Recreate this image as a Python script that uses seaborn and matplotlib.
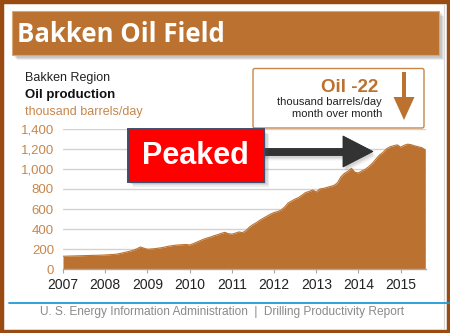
import numpy as np
import pandas as pd
import matplotlib
matplotlib.use("Agg")
import matplotlib.pyplot as plt
import seaborn as sns
from matplotlib.patches import Rectangle, FancyBboxPatch, Polygon
from matplotlib.ticker import FuncFormatter

# Bakken region oil production, thousand barrels/day, monthly Jan 2007 - Aug 2015
prod_2007 = [130, 131, 132, 133, 134, 135, 136, 137, 138, 139, 140, 141]
prod_2008 = [143, 145, 147, 150, 156, 164, 172, 180, 190, 204, 222, 210]
prod_2009 = [200, 202, 205, 210, 215, 222, 230, 235, 240, 243, 245, 247]
prod_2010 = [242, 255, 270, 285, 300, 312, 322, 335, 345, 358, 368, 355]
prod_2011 = [350, 360, 372, 365, 385, 420, 445, 465, 490, 510, 530, 550]
prod_2012 = [565, 575, 590, 620, 660, 680, 700, 715, 740, 765, 775, 790]
prod_2013 = [770, 800, 805, 815, 825, 835, 860, 920, 955, 975, 1005, 965]
prod_2014 = [960, 980, 997, 1025, 1057, 1100, 1139, 1165, 1200, 1220, 1230, 1239]
prod_2015 = [1216, 1235, 1246, 1240, 1229, 1220, 1211, 1189]

year_ticks = [2007, 2008, 2009, 2010, 2011, 2012, 2013, 2014, 2015]
y_ticks = [0, 200, 400, 600, 800, 1000, 1200, 1400]

values = (prod_2007 + prod_2008 + prod_2009 + prod_2010 + prod_2011 +
          prod_2012 + prod_2013 + prod_2014 + prod_2015)
df = pd.DataFrame({"month": np.arange(len(values)), "oil": values})
df["t"] = 2007 + df["month"] / 12.0

BROWN = "#bb7230"
FRAME = "#9a4b12"
TICK_ORANGE = "#c8864b"

sns.set_theme(style="white")
plt.rcParams["font.family"] = ["Liberation Sans", "DejaVu Sans"]

W, H = 450, 333
fig = plt.figure(figsize=(W / 100, H / 100), dpi=100)
fig.patch.set_facecolor("white")

# main chart axes
ax = fig.add_axes([63 / W, 1 - 269.3 / H, (426 - 63) / W, (269.3 - 128.7) / H])
ax.set_facecolor("white")
sns.lineplot(data=df, x="t", y="oil", ax=ax, color=BROWN, lw=0.8)
ax.fill_between(df["t"], df["oil"], color=BROWN, lw=0, zorder=2)
ax.set_xlim(2007, 2015.6)
ax.set_ylim(0, 1400)
ax.set_xticks(year_ticks)
ax.set_yticks(y_ticks)
ax.yaxis.set_major_formatter(FuncFormatter(lambda v, p: f"{int(v):,}"))
ax.set_xlabel("")
ax.set_ylabel("")
for v in y_ticks[1:]:
    ax.axhline(v, color="#d2d2d2", lw=1.0, zorder=1)
for s in ["top", "right", "left"]:
    ax.spines[s].set_visible(False)
ax.spines["bottom"].set_color("#a8a8a8")
ax.spines["bottom"].set_linewidth(1.0)
ax.spines["bottom"].set_zorder(3)
ax.tick_params(axis="x", which="major", length=3, width=0.8, color="#a8a8a8",
               bottom=True, labelsize=10, labelcolor="#222222", pad=3)
ax.tick_params(axis="y", length=0, labelsize=9.5, labelcolor=TICK_ORANGE, pad=6.5)

# overlay in pixel coordinates
ov = fig.add_axes([0, 0, 1, 1], zorder=5)
ov.set_xlim(0, W)
ov.set_ylim(H, 0)
ov.axis("off")
ov.patch.set_alpha(0)

# outer frame
ov.add_patch(Rectangle((1.5, 1.5), W - 3, H - 3, fill=False, ec=FRAME, lw=3.2))
ov.plot([444, 444], [4, 329], color="#d8d8d8", lw=0.8)

# title banner with shadow
for i, a in enumerate([0.10, 0.12, 0.15]):
    d = 5 - i * 1.2
    ov.add_patch(Rectangle((12.3 + d, 10.7 + d), 427, 44.3, fc="#555555", ec="none", alpha=a))
ov.add_patch(Rectangle((12.3, 10.7), 427, 44.3, fc=BROWN, ec="#d9a878", lw=0.8))
ov.text(17, 34, "Bakken Oil Field", color="white", fontsize=18.5, fontweight="bold",
        family=["Open Sans", "DejaVu Sans"], va="center", ha="left")

# chart headings
ov.text(25, 78, "Bakken Region", color="#222222", fontsize=9, va="center")
ov.text(25, 95, "Oil production", color="#111111", fontsize=9.5, fontweight="bold", va="center")
ov.text(25, 112, "thousand barrels/day", color=TICK_ORANGE, fontsize=9, va="center")

# monthly change box
ov.add_patch(FancyBboxPatch((253, 68.5), 171, 59.5, boxstyle="round,pad=0,rounding_size=2",
                            fc="white", ec="#c8864b", lw=1.0))
ov.text(350, 88, "Oil -22", color=BROWN, fontsize=13.5, fontweight="bold", ha="center", va="center")
ov.text(382, 102, "thousand barrels/day", color="#222222", fontsize=8, ha="right", va="center")
ov.text(382, 114, "month over month", color="#222222", fontsize=8, ha="right", va="center")
ov.add_patch(Polygon([(402, 72), (406, 72), (406, 97), (414.5, 97), (404, 120),
                      (393.5, 97), (402, 97)], closed=True, fc=BROWN, ec="none"))

# arrow pointing at the peak, with soft shadow
arrow_pts = [(262, 148.5), (343, 148.5), (343, 136), (373, 151.5),
             (343, 167), (343, 155.5), (262, 155.5)]
for i, a in enumerate([0.08, 0.10, 0.13]):
    d = 5 - i * 1.3
    ov.add_patch(Polygon([(x + d * 0.6, y + d) for x, y in arrow_pts], closed=True,
                         fc="#666666", ec="none", alpha=a))
ov.add_patch(Polygon(arrow_pts, closed=True, fc="#333333", ec="#2a2a2a", lw=0.6))

# "Peaked" label box with shadow
for i, a in enumerate([0.10, 0.13, 0.17]):
    d = 5 - i * 1.3
    ov.add_patch(Rectangle((128 + d, 129 + d), 136, 52.5, fc="#555555", ec="none", alpha=a))
ov.add_patch(Rectangle((128, 129), 136, 52.5, fc="#ff0000", ec="#3f4d6b", lw=1.4))
ov.text(195.5, 155.5, "Peaked", color="white", fontsize=22, fontweight="bold",
        family=["Liberation Sans", "DejaVu Sans"], ha="center", va="center")

# footer
ov.plot([9, W], [302.7, 302.7], color="#1f9bd7", lw=1.3)
ov.text(40, 311.5, "U. S. Energy Information Administration  |  Drilling Productivity Report",
        color="#8a8a8a", fontsize=8.6, ha="left", va="center")

fig.savefig("out.png", dpi=100)
